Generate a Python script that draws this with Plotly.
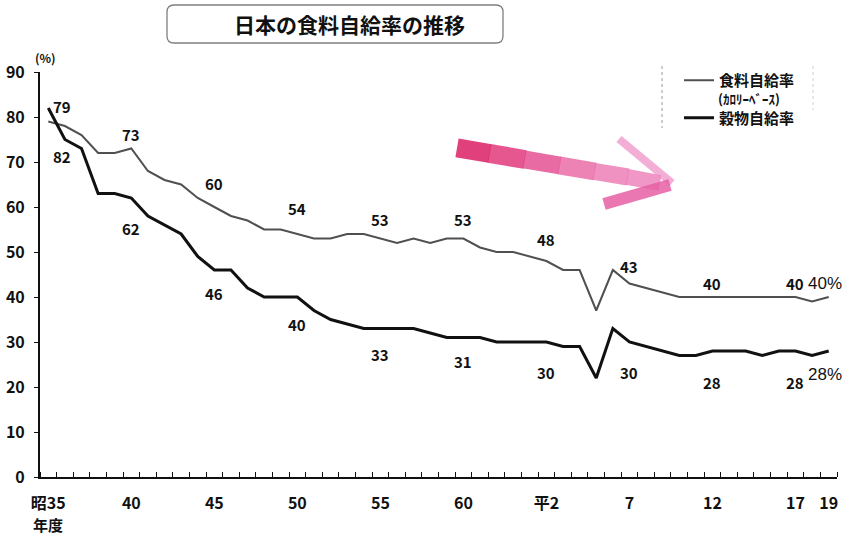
import plotly.graph_objects as go

# Fiscal years 昭和35 (1960) – 平成19 (2007)
years = list(range(1960, 2008))

# 食料自給率（カロリーベース）, %
food_rate = [79, 78, 76, 72, 72, 73, 68, 66, 65, 62,
             60, 58, 57, 55, 55, 54, 53, 53, 54, 54,
             53, 52, 53, 52, 53, 53, 51, 50, 50, 49,
             48, 46, 46, 37, 46, 43, 42, 41, 40, 40,
             40, 40, 40, 40, 40, 40, 39, 40]

# 穀物自給率, %
grain_rate = [82, 75, 73, 63, 63, 62, 58, 56, 54, 49,
              46, 46, 42, 40, 40, 40, 37, 35, 34, 33,
              33, 33, 33, 32, 31, 31, 31, 30, 30, 30,
              30, 29, 29, 22, 33, 30, 29, 28, 27, 27,
              28, 28, 28, 27, 28, 28, 27, 28]

tick_years = [1960, 1965, 1970, 1975, 1980, 1985, 1990, 1995, 2000, 2005, 2007]
tick_text = ["昭35", "40", "45", "50", "55", "60", "平2", "7", "12", "17", "19"]
year_unit = "年度"

# years whose values are written next to the lines
food_label_years = [1960, 1965, 1970, 1975, 1980, 1985, 1990, 1995, 2000, 2005]
grain_label_years = [1960, 1965, 1970, 1975, 1980, 1985, 1990, 1995, 2000, 2005]

# label placement (offset from the value, in % units) and horizontal nudge in px
food_label_dy = [3.4, 3.2, 5.3, 5.6, 4.3, 4.3, 4.7, 3.7, 3.1, 3.1]
grain_label_dy = [-10.7, -6.7, -5.3, -6.2, -5.7, -5.4, -6.7, -6.7, -7.1, -7.1]
label_dx = [14, 0, 0, 0, 0, 0, 0, 0, 0, 0]

W, H = 842, 534
ML, MR, MT, MB = 40, 5, 72, 57
PW, PH = W - ML - MR, H - MT - MB


def px(x):
    return (x - ML) / PW


def py(y):
    return (H - MB - y) / PH


JP = "Noto Sans CJK JP"

fig = go.Figure()
fig.add_trace(go.Scatter(
    x=years, y=food_rate, mode="lines",
    name="食料自給率", legendgroup="food",
    line=dict(color="#505050", width=2),
))
fig.add_trace(go.Scatter(
    x=years, y=grain_rate, mode="lines",
    name="穀物自給率", legendgroup="grain",
    line=dict(color="#111111", width=3),
))

label_font = dict(family=JP, size=15, color="#111", weight="bold")
annotations = []
val = dict(zip(years, food_rate))
for yr, dy, dx in zip(food_label_years, food_label_dy, label_dx):
    annotations.append(dict(x=yr, y=val[yr] + dy, text=str(val[yr]), showarrow=False,
                            xshift=dx, font=label_font))
val = dict(zip(years, grain_rate))
for yr, dy, dx in zip(grain_label_years, grain_label_dy, label_dx):
    annotations.append(dict(x=yr, y=val[yr] + dy, text=str(val[yr]), showarrow=False,
                            xshift=dx, font=label_font))

# latest values at the right edge
end_font = dict(family="Liberation Sans", size=17, color="#111")
annotations.append(dict(x=years[-1], y=food_rate[-1] + 2.9, text=f"{food_rate[-1]}%",
                        showarrow=False, xanchor="left", xshift=-23, font=end_font))
annotations.append(dict(x=years[-1], y=grain_rate[-1] - 5.3, text=f"{grain_rate[-1]}%",
                        showarrow=False, xanchor="left", xshift=-23, font=end_font))

# second line of the first x label
annotations.append(dict(x=tick_years[0], xref="x", yref="paper", y=py(524), yanchor="middle",
                        text=year_unit, showarrow=False,
                        font=dict(family=JP, size=15, color="#111", weight="bold")))

# note under the calorie-based legend entry
annotations.append(dict(xref="paper", yref="paper", x=px(716), y=py(98.5), xanchor="left",
                        yanchor="middle", text="(ｶﾛﾘｰﾍﾞｰｽ)", showarrow=False,
                        font=dict(family=JP, size=13, color="#111", weight="bold")))

# unit label
annotations.append(dict(xref="paper", yref="paper", x=px(45), y=py(57), xanchor="center",
                        yanchor="middle", text="(%)", showarrow=False,
                        font=dict(family=JP, size=12, color="#111", weight="bold")))

# title
annotations.append(dict(xref="paper", yref="paper", x=px(349), y=py(24), xanchor="center",
                        yanchor="middle", text="日本の食料自給率の推移", showarrow=False,
                        font=dict(family=JP, size=21, color="#111", weight="bold")))


def rounded_rect(x0, y0, x1, y1, r):
    a0, a1 = px(x0), px(x1)
    b0, b1 = py(y0), py(y1)
    rx, ry = r / PW, r / PH
    return (f"M{a0 + rx},{b0} L{a1 - rx},{b0} Q{a1},{b0} {a1},{b0 - ry} "
            f"L{a1},{b1 + ry} Q{a1},{b1} {a1 - rx},{b1} "
            f"L{a0 + rx},{b1} Q{a0},{b1} {a0},{b1 + ry} "
            f"L{a0},{b0 - ry} Q{a0},{b0} {a0 + rx},{b0} Z")


def seg(x0, y0, x1, y1, color, width):
    return dict(type="line", xref="paper", yref="paper",
                x0=px(x0), y0=py(y0), x1=px(x1), y1=py(y1),
                line=dict(color=color, width=width))


shapes = [
    dict(type="path", xref="paper", yref="paper", path=rounded_rect(167, 5, 503, 43, 7),
         line=dict(color="#808080", width=1.3), fillcolor="rgba(0,0,0,0)"),
    # legend frame remnants
    dict(type="line", xref="paper", yref="paper", x0=px(662), x1=px(662), y0=py(66), y1=py(128),
         line=dict(color="#9a9a9a", width=1, dash="dot")),
    dict(type="line", xref="paper", yref="paper", x0=px(813), x1=px(813), y0=py(66), y1=py(110),
         line=dict(color="#d0d0d0", width=1, dash="dot")),
]

# hand-drawn downward trend arrow: shaft fading from deep rose to light pink
shaft_pts = [(458, 148), (490, 153.5), (525, 159.5), (560, 165.5), (595, 171.5), (628, 177), (660, 183)]
shaft_cols = ["rgba(218,30,100,0.85)", "rgba(224,50,120,0.82)", "rgba(228,70,140,0.8)",
              "rgba(232,95,160,0.78)", "rgba(235,115,175,0.78)", "rgba(236,125,185,0.8)"]
shaft_w = [19, 19, 18, 18, 17, 16]
for (a, b), col, w in zip(zip(shaft_pts[:-1], shaft_pts[1:]), shaft_cols, shaft_w):
    shapes.append(seg(a[0] - 1, a[1] - 0.17, b[0], b[1], col, w))
shapes.append(seg(619, 139, 672, 183, "rgba(238,140,195,0.7)", 8))
shapes.append(seg(604, 204, 670, 185, "rgba(230,95,165,0.85)", 12))

fig.update_layout(
    width=W, height=H,
    margin=dict(l=ML, r=MR, t=MT, b=MB),
    paper_bgcolor="white", plot_bgcolor="white",
    font=dict(family=JP, color="#111"),
    showlegend=True,
    legend=dict(
        x=px(679), y=py(64), xanchor="left", yanchor="top",
        bgcolor="rgba(0,0,0,0)", valign="middle", tracegroupgap=15,
        font=dict(family=JP, size=15, color="#111", weight="bold"),
        itemwidth=30,
    ),
    annotations=annotations,
    shapes=shapes,
    xaxis=dict(
        range=[1959.5, 2007.5],
        tickmode="array", tickvals=tick_years, ticktext=tick_text,
        ticks="", showgrid=False, zeroline=False,
        showline=True, linecolor="#111", linewidth=1.6,
        tickfont=dict(family=JP, size=16, color="#111", weight="bold"),
        minor=dict(tickmode="linear", tick0=1959.5, dtick=1, ticks="inside",
                   ticklen=5, tickwidth=1.2, tickcolor="#111", showgrid=False),
        ticklabelstandoff=11,
    ),
    yaxis=dict(
        range=[0, 90], dtick=10, tick0=0,
        ticks="outside", ticklen=4, tickwidth=1.2, tickcolor="#111",
        showgrid=False, zeroline=False,
        showline=True, linecolor="#111", linewidth=2,
        tickfont=dict(family=JP, size=16, color="#111", weight="bold"),
        ticklabelstandoff=6,
    ),
)

fig.write_html("out.html")
